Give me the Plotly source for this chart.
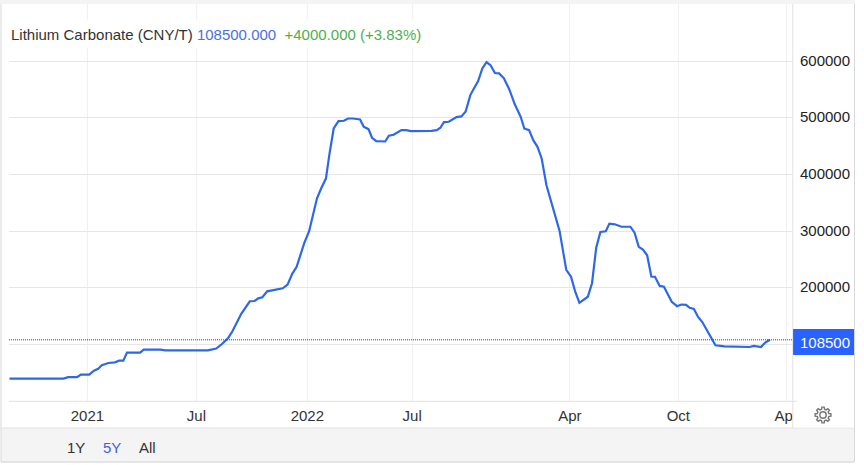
import math
import pandas as pd
import plotly.graph_objects as go

W, H = 864, 465
FONT = "Liberation Sans, Arial, sans-serif"

days_since_2021 = [-130,-40,-32,-17,-11,3,11,18,24,35,46,53,60,66,88,94,122,130,201,215,224,235,242,257,271,279,285,292,300,310,326,334,342,349,356,362,370,383,390,398,404,411,419,428,435,443,455,461,469,475,482,497,503,511,524,532,540,563,574,583,589,595,603,616,624,631,639,645,652,659,666,673,680,687,695,704,713,723,729,737,744,751,758,766,788,799,807,814,821,835,842,849,856,865,871,880,891,906,913,920,927,934,941,947,955,962,975,984,991,999,1005,1012,1019,1026,1048,1063,1083,1105,1112,1124,1131,1139]
prices = [40000,40000,42500,42500,47000,47000,54000,57500,63500,67600,68800,71800,71800,85900,85900,91200,91200,90000,90000,93000,100600,111800,123500,154700,176500,177000,181700,183500,194000,196500,199400,205900,225300,237000,262300,279400,300000,357700,375400,393000,437000,481400,494400,495000,499000,499000,497300,484400,480200,465000,459000,458400,468500,470200,478500,478500,476700,476700,477000,478500,482600,492600,493200,501400,502600,510900,540300,552000,565000,587400,598600,592700,579200,578600,569800,550300,524400,502000,481400,478500,460800,449000,428400,381300,300000,232000,220000,193400,173800,184500,208300,270800,298700,300000,313500,312300,308000,308000,297500,272500,267800,257700,220200,219600,203500,202300,175600,167800,170800,170200,164900,163000,148800,139900,98800,97000,95800,95800,97600,95800,103600,108500]
tick_days = [0,182,367,542,805,986,1166]
tick_labels = ["2021","Jul","2022","Jul","Apr","Oct","Apr"]
y_ticks = [0,100000,200000,300000,400000,500000,600000]
y_labels = ["","","200000","300000","400000","500000","600000"]
last_price = 108500

base = pd.Timestamp("2021-01-01")
to_date = lambda d: base + pd.Timedelta(days=d)
x_dates = [to_date(d) for d in days_since_2021]

X_FIT = 860.0
def fx(x): return x / X_FIT
def fy(y): return 1 - y / H

def rect(x0, y0, x1, y1, color, layer="below"):
    return dict(type="rect", xref="paper", yref="paper", x0=fx(x0), x1=fx(x1), y0=fy(y0), y1=fy(y1),
                fillcolor=color, line=dict(width=0), layer=layer)

def seg(x0, y0, x1, y1, color, layer="above"):
    return dict(type="line", xref="paper", yref="paper", x0=fx(x0), x1=fx(x1), y0=fy(y0), y1=fy(y1),
                line=dict(color=color, width=1), layer=layer)

def gear(cx, cy, r_out, r_in, r_hole, teeth=8):
    pts = []
    for i in range(teeth):
        a = 2 * math.pi * i / teeth
        w = math.pi / teeth
        for r, da in ((r_in, -w * 0.62), (r_out, -w * 0.36), (r_out, w * 0.36), (r_in, w * 0.62)):
            pts.append((cx + r * math.cos(a + da), cy + r * math.sin(a + da)))
    d = "M" + " L".join(f"{fx(px_)},{fy(py_)}" for px_, py_ in pts) + " Z"
    ring = dict(type="circle", xref="paper", yref="paper", x0=fx(cx - r_hole), x1=fx(cx + r_hole),
                y0=fy(cy + r_hole), y1=fy(cy - r_hole), line=dict(color="#777777", width=1.4), layer="above")
    outline = dict(type="path", xref="paper", yref="paper", path=d, line=dict(color="#777777", width=1.4),
                   fillcolor="#ffffff", layer="above")
    return [outline, ring]

fig = go.Figure(go.Scatter(x=x_dates, y=prices, mode="lines", line=dict(color="#2d67ea", width=2.2),
                           hoverinfo="skip", showlegend=False))

shapes = [
    rect(0, 0, 856, 4, "#f4f4f4"),
    rect(1, 428, 855, 462, "#f4f4f4"),
    seg(1, 428, 855, 428, "#e2e2e2", "below"),
    seg(1, 462, 855, 462, "#d0d0d0", "below"),
    seg(1, 4, 1, 462, "#d8d8d8", "below"),
    seg(855.5, 4, 855.5, 462, "#d8d8d8", "below"),
    rect(794, 402, 855, 427.5, "#ffffff", "above"),
    rect(8, 20, 426, 47.5, "#ffffff", "above"),
    seg(793.7, 4, 793.7, 428, "#e2e2e2"),
    seg(9, 401.3, 798, 401.3, "#e2e2e2"),
    dict(type="line", xref="paper", yref="y", x0=fx(9), x1=fx(793.7), y0=last_price, y1=last_price,
         line=dict(color="#1f4e8c", width=1, dash="1px,1px"), layer="above"),
    rect(794, 329, 855, 355, "#2962ff", "above"),
] + gear(824, 415, 8, 6, 3.2)

def note(text, x, y, size=15, color="#222222", anchor="left"):
    return dict(text=text, xref="paper", yref="paper", x=fx(x), y=fy(y), xanchor=anchor, yanchor="middle",
                showarrow=False, font=dict(family=FONT, size=size, color=color), borderpad=0)

title = ('Lithium Carbonate (CNY/T) <span style="color:#4a6fe3">108500.000</span>'
         '  <span style="color:#4caf50">+4000.000 (+3.83%)</span>')
annotations = [
    note(title, 10.5, 34, 15, "#333333"),
    note(f"{last_price}", 800.3, 342.5, 15, "#ffffff"),
    note("1Y", 76, 447.5, 15, "#333333", "center"),
    note("5Y", 112, 447.5, 15, "#3f63dc", "center"),
    note("All", 148, 447.5, 15, "#333333", "center"),
]
for val, lab in zip(y_ticks, y_labels):
    if lab:
        annotations.append(dict(text=lab, xref="paper", yref="y", x=fx(800.3), y=val, yshift=1,
                                xanchor="left", yanchor="middle", showarrow=False, borderpad=0,
                                font=dict(family=FONT, size=15, color="#222222")))

fig.update_layout(
    width=W, height=H, margin=dict(l=0, r=0, t=0, b=0),
    paper_bgcolor="#ffffff", plot_bgcolor="#ffffff",
    shapes=shapes, annotations=annotations, showlegend=False,
    xaxis=dict(domain=[fx(9), fx(793.7)], range=[to_date(-130.8), to_date(1177)], type="date",
               tickmode="array", tickvals=[to_date(d) for d in tick_days], ticktext=tick_labels,
               showgrid=True, gridcolor="#f0f0f0", gridwidth=1, ticks="", showline=False, zeroline=False,
               tickfont=dict(family=FONT, size=15, color="#333333"), ticklabelstandoff=4),
    yaxis=dict(domain=[fy(401.3), fy(4)], range=[0, 701000], side="right",
               tickmode="array", tickvals=y_ticks, showticklabels=False,
               showgrid=True, gridcolor="#e6e6e6", gridwidth=1, ticks="", showline=False, zeroline=False),
)
fig.write_html("out.html", config=dict(displayModeBar=False, responsive=False),
               post_script="document.body.style.margin='0';document.body.style.overflow='hidden';")
